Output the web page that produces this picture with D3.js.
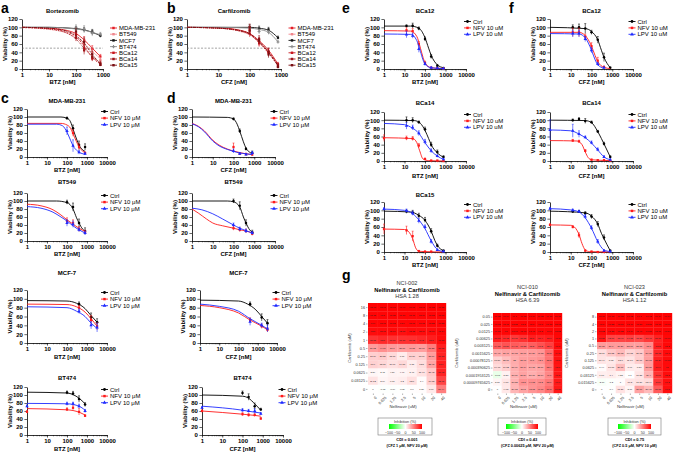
<!DOCTYPE html>
<html>
<head>
<meta charset="utf-8">
<script src="https://cdn.jsdelivr.net/npm/d3@7"></script>
<style>
body { margin: 0; background: #fff; }
svg { display: block; }
</style>
</head>
<body>
<svg id="fig" width="673" height="456"></svg>
<script>
// ---------- data ----------
// points: [dose nM, mean viability %, error]; fit: [dose nM, fitted viability %]
var decades3 = [1, 10, 100, 1000];
var decades4 = [1, 10, 100, 1000, 10000];
var viabilityTicks = [0, 20, 40, 60, 80, 100, 120];

var aBortezomib = [
    { name: 'MDA-MB-231', pts: [[100, 85, 6], [200, 70, 8], [400, 48, 8], [800, 30, 5]], fit: [[1, 100], [10, 98], [50, 92], [100, 85], [200, 70], [400, 50], [800, 30]] },
    { name: 'BT549', pts: [[100, 75, 8], [200, 60, 10], [400, 40, 8], [800, 22, 5]], fit: [[1, 99], [10, 95], [50, 85], [100, 75], [200, 60], [400, 42], [800, 25]] },
    { name: 'MCF7', pts: [[100, 97, 5], [200, 94, 6], [400, 90, 5], [800, 80, 4]], fit: [[1, 100], [10, 100], [100, 97], [200, 94], [400, 88], [800, 80]] },
    { name: 'BT474', pts: [[100, 100, 6], [200, 96, 8], [400, 85, 6], [800, 84, 4]], fit: [[1, 100], [10, 100], [100, 96], [200, 93], [400, 88], [800, 82]] },
    { name: 'BCa12', pts: [[100, 82, 8], [200, 50, 10], [400, 25, 6], [800, 10, 3]], fit: [[1, 100], [10, 97], [50, 88], [100, 78], [200, 55], [400, 28], [800, 12]] },
    { name: 'BCa14', pts: [[100, 75, 8], [200, 45, 10], [400, 28, 8], [800, 15, 4]], fit: [[1, 100], [10, 96], [50, 85], [100, 72], [200, 50], [400, 30], [800, 15]] },
    { name: 'BCa15', pts: [[100, 90, 8], [200, 65, 10], [400, 35, 8], [800, 10, 3]], fit: [[1, 100], [10, 98], [50, 90], [100, 80], [200, 62], [400, 35], [800, 12]] }
];

var bCarfilzomib = [
    { name: 'MDA-MB-231', pts: [[100, 95, 8], [200, 65, 8], [400, 40, 8], [800, 12, 4]], fit: [[1, 100], [10, 99], [50, 93], [100, 85], [200, 68], [400, 45], [800, 12]] },
    { name: 'BT549', pts: [[100, 90, 6], [200, 60, 6], [400, 38, 6], [800, 8, 3]], fit: [[1, 100], [10, 98], [50, 90], [100, 82], [200, 64], [400, 40], [800, 10]] },
    { name: 'MCF7', pts: [[100, 100, 6], [200, 97, 6], [400, 95, 5], [800, 75, 4]], fit: [[1, 100], [10, 100], [100, 100], [200, 98], [400, 93], [800, 75]] },
    { name: 'BT474', pts: [[100, 100, 6], [200, 90, 6], [400, 88, 5], [800, 65, 3]], fit: [[1, 100], [10, 100], [100, 98], [200, 95], [400, 88], [800, 65]] },
    { name: 'BCa12', pts: [[100, 85, 8], [200, 62, 8], [400, 40, 10], [800, 5, 3]], fit: [[1, 100], [10, 98], [50, 92], [100, 84], [200, 63], [400, 38], [800, 8]] },
    { name: 'BCa14', pts: [[100, 100, 8], [200, 72, 8], [400, 42, 8], [800, 10, 4]], fit: [[1, 100], [10, 98], [50, 91], [100, 83], [200, 65], [400, 42], [800, 10]] },
    { name: 'BCa15', pts: [[100, 92, 8], [200, 68, 8], [400, 35, 8], [800, 5, 3]], fit: [[1, 100], [10, 98], [50, 92], [100, 85], [200, 66], [400, 40], [800, 8]] }
];

// c: BTZ +/- NFV or LPV
var cMDA = [
    { name: 'Ctrl', pts: [[100, 97, 3], [200, 72, 8], [400, 30, 10], [800, 25, 8]], fit: [[1, 100], [50, 100], [100, 97], [150, 88], [200, 70], [300, 45], [400, 30], [600, 18], [800, 14]] },
    { name: 'NFV 10 μM', pts: [[200, 60, 8], [400, 25, 8], [800, 10, 3]], fit: [[1, 84], [50, 84], [100, 80], [150, 72], [200, 58], [300, 38], [400, 25], [600, 15], [800, 10]] },
    { name: 'LPV 10 μM', pts: [[100, 65, 10], [200, 28, 15], [400, 12, 5], [800, 8, 3]], fit: [[1, 82], [30, 82], [60, 78], [100, 62], [150, 42], [200, 28], [300, 17], [400, 12], [800, 7]] }
];
var cBT549 = [
    { name: 'Ctrl', pts: [[100, 97, 5], [200, 85, 10], [400, 45, 10], [800, 25, 8]], fit: [[1, 100], [30, 100], [100, 96], [200, 80], [300, 58], [400, 45], [600, 30], [800, 25]] },
    { name: 'NFV 10 μM', pts: [[100, 50, 8], [200, 45, 8], [400, 30, 6], [800, 22, 5]], fit: [[1, 92], [5, 88], [20, 78], [50, 65], [100, 53], [200, 42], [400, 32], [800, 24]] },
    { name: 'LPV 10 μM', pts: [[100, 45, 8], [200, 42, 8], [400, 28, 5], [800, 20, 5]], fit: [[1, 86], [5, 82], [20, 72], [50, 60], [100, 50], [200, 38], [400, 28], [800, 20]] }
];
var cMCF7 = [
    { name: 'Ctrl', pts: [[400, 88, 5], [1600, 58, 10], [3200, 47, 8]], fit: [[1, 96], [100, 95], [300, 90], [800, 78], [1600, 62], [3200, 47]] },
    { name: 'NFV 10 μM', pts: [[400, 80, 5], [1600, 52, 10], [3200, 38, 8]], fit: [[1, 88], [100, 87], [300, 82], [800, 70], [1600, 55], [3200, 38]] },
    { name: 'LPV 10 μM', pts: [[400, 72, 5], [1600, 40, 8], [3200, 35, 10]], fit: [[1, 82], [100, 80], [300, 72], [800, 60], [1600, 45], [3200, 33]] }
];
var cBT474 = [
    { name: 'Ctrl', pts: [[100, 106, 4], [200, 104, 5], [400, 90, 8], [800, 76, 5]], fit: [[1, 107], [100, 105], [200, 101], [400, 92], [800, 78]] },
    { name: 'NFV 10 μM', pts: [[1, 58, 3], [100, 64, 4], [200, 68, 5], [400, 58, 8], [800, 48, 3]], fit: [[1, 66], [100, 63], [400, 57], [800, 50]] },
    { name: 'LPV 10 μM', pts: [[1, 72, 3], [100, 78, 4], [200, 78, 4], [400, 72, 5], [800, 60, 4]], fit: [[1, 79], [100, 78], [400, 72], [800, 62]] }
];

// d: CFZ +/- NFV or LPV
var dMDA = [
    { name: 'Ctrl', pts: [[100, 95, 3], [200, 65, 5], [400, 20, 3], [800, 10, 5]], fit: [[1, 100], [50, 99], [100, 95], [150, 82], [200, 65], [300, 38], [400, 22], [600, 12], [800, 8]] },
    { name: 'NFV 10 μM', pts: [[100, 25, 10], [200, 8, 3], [400, 7, 3], [800, 6, 3]], fit: [[1, 84], [2, 77], [4, 65], [10, 42], [20, 30], [50, 20], [100, 15], [200, 11], [400, 8], [800, 6]] },
    { name: 'LPV 10 μM', pts: [[100, 15, 5], [200, 8, 3], [400, 6, 2], [800, 10, 4]], fit: [[1, 83], [2, 76], [4, 63], [10, 40], [20, 28], [50, 19], [100, 14], [200, 10], [400, 8], [800, 6]] }
];
var dBT549 = [
    { name: 'Ctrl', pts: [[100, 100, 5], [200, 88, 10], [400, 45, 8], [800, 22, 5]], fit: [[1, 100], [50, 100], [100, 98], [200, 85], [300, 60], [400, 45], [600, 28], [800, 22]] },
    { name: 'NFV 10 μM', pts: [[100, 32, 5], [200, 28, 5], [400, 25, 5], [800, 18, 4]], fit: [[1, 80], [2, 70], [5, 55], [10, 45], [30, 38], [100, 32], [200, 28], [400, 25], [800, 20]] },
    { name: 'LPV 10 μM', pts: [[100, 40, 5], [200, 30, 5], [400, 25, 5], [800, 20, 4]], fit: [[1, 82], [3, 78], [10, 68], [30, 55], [100, 40], [200, 32], [400, 26], [800, 20]] }
];
var dMCF7 = [
    { name: 'Ctrl', pts: [[400, 88, 5], [1600, 58, 8], [3200, 45, 8]], fit: [[1, 97], [100, 95], [300, 88], [800, 75], [1600, 60], [3200, 45]] },
    { name: 'NFV 10 μM', pts: [[400, 52, 5], [1600, 38, 5], [3200, 30, 5]], fit: [[1, 85], [10, 80], [100, 68], [400, 52], [1600, 38], [3200, 30]] },
    { name: 'LPV 10 μM', pts: [[400, 48, 8], [1600, 40, 5], [3200, 33, 8]], fit: [[1, 88], [10, 83], [100, 72], [400, 55], [1600, 40], [3200, 32]] }
];
var dBT474 = [
    { name: 'Ctrl', pts: [[100, 105, 5], [200, 95, 8], [400, 72, 8], [800, 64, 3]], fit: [[1, 100], [100, 97], [200, 92], [400, 78], [800, 62]] },
    { name: 'NFV 10 μM', pts: [[1, 60, 3], [100, 52, 4], [200, 50, 4], [400, 50, 4], [800, 41, 3]], fit: [[1, 60], [100, 52], [400, 49], [800, 47]] },
    { name: 'LPV 10 μM', pts: [[1, 68, 3], [100, 62, 4], [200, 60, 4], [400, 60, 6], [800, 53, 3]], fit: [[1, 72], [100, 62], [400, 57], [800, 55]] }
];

// e: BTZ in patient cells, f: CFZ in patient cells
var eBCa12 = [
    { name: 'Ctrl', pts: [[12.5, 103, 3], [25, 104, 6], [50, 97, 4], [100, 72, 5], [200, 30, 5], [400, 8, 3], [800, 2, 2]], fit: [[1, 103], [20, 103], [50, 98], [100, 75], [150, 50], [200, 33], [400, 10], [800, 3]] },
    { name: 'NFV 10 uM', pts: [[12.5, 93, 6], [25, 91, 6], [50, 60, 6], [100, 15, 4], [200, 3, 2], [400, 2, 1], [800, 1, 1]], fit: [[1, 92], [20, 91], [40, 78], [60, 50], [80, 28], [100, 15], [200, 3], [800, 1]] },
    { name: 'LPV 10 uM', pts: [[12.5, 83, 8], [25, 80, 6], [50, 48, 8], [100, 12, 4], [200, 3, 2], [400, 2, 1], [800, 1, 1]], fit: [[1, 84], [20, 83], [40, 68], [60, 42], [80, 22], [100, 12], [200, 3], [800, 1]] }
];
var fBCa12 = [
    { name: 'Ctrl', pts: [[12.5, 100, 6], [25, 100, 8], [50, 97, 12], [100, 88, 5], [200, 70, 8], [400, 28, 10], [800, 3, 2]], fit: [[1, 100], [50, 97], [100, 90], [200, 70], [300, 45], [400, 28], [800, 3]] },
    { name: 'NFV 10 uM', pts: [[12.5, 88, 10], [25, 88, 10], [50, 78, 6], [100, 55, 8], [200, 20, 8], [400, 5, 2]], fit: [[1, 88], [25, 88], [50, 80], [100, 55], [150, 32], [200, 18], [400, 4], [800, 1]] },
    { name: 'LPV 10 uM', pts: [[12.5, 85, 8], [25, 85, 8], [50, 72, 6], [100, 45, 6], [200, 12, 4], [400, 3, 2]], fit: [[1, 85], [25, 84], [50, 75], [100, 45], [150, 22], [200, 10], [400, 2]] }
];
var eBCa14 = [
    { name: 'Ctrl', pts: [[12.5, 100, 8], [25, 100, 6], [50, 95, 3], [100, 78, 5], [200, 40, 6], [400, 22, 5], [800, 10, 3]], fit: [[1, 100], [30, 99], [60, 92], [100, 75], [150, 55], [200, 40], [400, 20], [800, 9]] },
    { name: 'NFV 10 uM', pts: [[1, 56, 8], [12.5, 56, 5], [25, 55, 5], [50, 38, 5], [100, 5, 2], [200, 1, 1], [400, 1, 1], [800, 0, 1]], fit: [[1, 57], [25, 55], [40, 45], [55, 25], [80, 5], [150, 1], [800, 0]] },
    { name: 'LPV 10 uM', pts: [[12.5, 86, 8], [25, 82, 6], [50, 68, 6], [100, 47, 6], [200, 25, 5], [400, 12, 3], [800, 4, 2]], fit: [[1, 92], [10, 89], [25, 80], [50, 68], [100, 45], [200, 25], [400, 12], [800, 4]] }
];
var fBCa14 = [
    { name: 'Ctrl', pts: [[12.5, 100, 3], [25, 103, 3], [50, 98, 6], [100, 95, 3], [200, 72, 3], [400, 42, 4], [800, 10, 3]], fit: [[1, 100], [50, 99], [100, 94], [200, 72], [300, 55], [400, 42], [800, 10]] },
    { name: 'NFV 10 uM', pts: [[12.5, 50, 3], [25, 48, 3], [50, 25, 3], [100, 3, 2], [200, 2, 1], [400, 2, 1], [800, 1, 1]], fit: [[1, 50], [20, 49], [35, 40], [50, 22], [70, 8], [100, 3], [800, 1]] },
    { name: 'LPV 10 uM', pts: [[1, 76, 25], [12.5, 74, 16], [25, 66, 8], [50, 58, 3], [100, 45, 4], [200, 28, 4], [400, 10, 3], [800, 3, 2]], fit: [[1, 76], [10, 74], [25, 66], [50, 57], [100, 44], [200, 27], [400, 10], [800, 3]] }
];
var eBCa15 = [
    { name: 'Ctrl', pts: [[12.5, 97, 4], [25, 95, 5], [50, 87, 6], [100, 77, 6], [200, 50, 6], [400, 15, 4], [800, 3, 2]], fit: [[1, 98], [20, 96], [50, 88], [100, 76], [200, 50], [300, 28], [400, 16], [800, 3]] },
    { name: 'NFV 10 uM', pts: [[1, 55, 12], [12.5, 52, 10], [25, 38, 12], [50, 2, 2], [100, 1, 1], [200, 1, 1]], fit: [[1, 55], [10, 54], [15, 50], [20, 42], [25, 32], [35, 10], [50, 2], [100, 1], [800, 0]] },
    { name: 'LPV 10 uM', pts: [[1, 103, 3], [12.5, 99, 4], [25, 93, 5], [50, 75, 6], [100, 60, 5], [200, 25, 5], [400, 5, 2], [800, 1, 1]], fit: [[1, 103], [10, 100], [25, 92], [50, 77], [100, 56], [200, 27], [400, 6], [800, 1]] }
];
var fBCa15 = [
    { name: 'Ctrl', pts: [[12.5, 97, 3], [25, 97, 3], [50, 93, 4], [100, 85, 5], [200, 67, 6], [400, 35, 6], [800, 3, 2]], fit: [[1, 98], [50, 94], [100, 86], [200, 67], [300, 45], [400, 32], [800, 3]] },
    { name: 'NFV 10 uM', pts: [[1, 65, 3], [12.5, 60, 3], [25, 40, 6], [50, 3, 2], [100, 1, 1], [200, 0, 1], [400, 0, 1]], fit: [[1, 65], [10, 64], [15, 60], [20, 52], [25, 42], [35, 20], [50, 5], [80, 1], [800, 0]] },
    { name: 'LPV 10 uM', pts: [[1, 104, 3], [12.5, 100, 3], [25, 97, 3], [50, 85, 5], [100, 58, 5], [200, 25, 5], [400, 3, 2], [800, 1, 1]], fit: [[1, 104], [10, 101], [25, 96], [50, 82], [100, 57], [200, 25], [400, 5], [800, 1]] }
];

// g: combination matrices, inhibition (%)
var nfvDoses = ['0', '0.625', '1.25', '2.5', '5', '10', '20', '40'];
var nci002Cfz = ['16', '8', '4', '2', '1', '0.5', '0.25', '0.125', '0.0625', '0.03125', '0'];
var nci002Vals = [
    [98.98, 98.98, 98.98, 98.96, 99.01, 98.97, 99.02, 99.05],
    [98.15, 98.1, 98.05, 98.17, 98.11, 98.09, 98.13, 98.66],
    [97.9, 98.01, 97.93, 97.6, 98.01, 97.75, 98.22, 98.52],
    [95.1, 95.77, 95.97, 93.88, 95.65, 95.19, 95.76, 97.74],
    [80.05, 83.6, 80.67, 81.18, 81.63, 84.5, 88.6, 96.12],
    [39.02, 44.07, 39.6, 38.86, 40.15, 37.91, 51.25, 88.02],
    [18.69, 20.55, 15.07, 7.77, 17.86, 18.09, 38.69, 86.13],
    [17.9, 15.87, 11.81, 14.88, 7.15, 13.5, 35.45, 86.9],
    [3.59, 2.45, 4.59, 4.46, 5.48, 11.47, 21.42, 86.42],
    [11.12, 3.99, 6.07, 7.2, 12.6, 1.4, 19.03, 73.45],
    [0, -0.65, -0.84, -0.29, 0.6, 1.26, 8.69, 50.44]
];
var nci010Cfz = ['0.05', '0.025', '0.0125', '0.00625', '0.003125', '0.0015625', '0.00078125', '0.000390625', '0.0001953125', '0.00009765625', '0'];
var nci010Vals = [
    [99.05, 99.04, 99.1, 99.02, 99.04, 99.05, 99.11, 99.15],
    [98.73, 98.61, 98.55, 98.5, 98.7, 98.6, 98.71, 98.93],
    [97.88, 98.0, 97.94, 97.96, 97.97, 97.5, 97.7, 98.52],
    [88.68, 84.13, 77.68, 80.85, 88.1, 86.4, 88.6, 97.3],
    [64.13, 67.56, 64.48, 61.53, 63.2, 68.3, 75.4, 96.1],
    [34.48, 36.41, 36.13, 38.08, 39.36, 41.13, 58.2, 94.8],
    [18.59, 25.87, 33, 37.98, 40.1, 42.7, 55.3, 93.2],
    [14.67, 19.82, 31.69, 37.74, 34.75, 35.89, 52.4, 92.1],
    [-8.61, 5.38, 30.86, 36.54, 31.78, 35.84, 47.1, 91.5],
    [3.88, 9.88, 30.53, 43.3, 44.03, 45.2, 53.1, 90.6],
    [0, 9.12, 29.13, 36.2, 42.13, 46.77, 57.3, 90.88]
];
var nci023Cfz = ['8', '4', '2', '1', '0.5', '0.25', '0.125', '0.0625', '0.03125', '0.015625', '0'];
var nci023Vals = [
    [99.09, 99.06, 99.08, 99.03, 99.1, 99.13, 99.14, 99.14],
    [98.6, 98.55, 98.61, 98.49, 98.57, 98.51, 98.68, 98.97],
    [97.52, 97.31, 97.33, 97.64, 97.49, 97.57, 97.71, 98.54],
    [91.31, 73.67, 73.48, 74.75, 71.36, 77.47, 87.11, 96.99],
    [39.75, 39.6, 39.29, 38.61, 37.85, 45.6, 88.3, 97.2],
    [13.07, 21.52, 27.03, 16.83, 20.73, 39.07, 85.13, 96.4],
    [10.44, 8.63, 13.6, 11.16, 20.11, 37.93, 88.29, 96.12],
    [1.44, 10.08, 26.11, 7.96, 7.56, 38.75, 89.1, 96.0],
    [6.76, 7.4, 4.35, 0.1, 10.35, 29.4, 81.2, 95.3],
    [-2.76, -1.2, 1.0, 10.3, 11.36, 13.44, 78.5, 94.2],
    [0, -0.4, 11.21, 3.77, 36.87, 27.48, 65.13, 94.5]
];
var inhibitionTicks = [-100, -50, 0, 50, 100];

// ---------- drawing ----------
var FONT = '"Liberation Sans", Arial, Helvetica, sans-serif';
var svg = d3.select('#fig').attr('font-family', FONT);

var lineStyles = {
    'MDA-MB-231': { c: '#e41e26', dash: null, sym: d3.symbolSquare },
    'BT549': { c: '#f0868c', dash: '2,1', sym: d3.symbolSquare },
    'MCF7': { c: '#111111', dash: null, sym: d3.symbolSquare },
    'BT474': { c: '#8c8c8c', dash: null, sym: d3.symbolCross },
    'BCa12': { c: '#c8161e', dash: '2,1.2', sym: d3.symbolSquare },
    'BCa14': { c: '#9e1419', dash: '1,1', sym: d3.symbolSquare },
    'BCa15': { c: '#7a1014', dash: '3,1,1,1', sym: d3.symbolSquare }
};

function treatStyle(name) {
    if (name.indexOf('NFV') === 0) return { c: '#ff1a1a', dash: null, sym: d3.symbolSquare };
    if (name.indexOf('LPV') === 0) return { c: '#1f2bff', dash: null, sym: d3.symbolTriangle };
    return { c: '#000000', dash: null, sym: d3.symbolCircle };
}

function styleAxis(sel) {
    sel.attr('font-family', FONT).attr('font-size', 6).attr('font-weight', 'bold');
    sel.select('.domain').attr('stroke', '#000').attr('stroke-width', 0.8);
    sel.selectAll('.tick line').attr('stroke', '#000').attr('stroke-width', 0.6);
}

function doseChart(L, series, styleOf) {
    var x = d3.scaleLog().domain([1, L.max]).range([L.x0, L.x1]);
    var y = d3.scaleLinear().domain([0, 120]).range([L.yBot, L.yTop]);
    var g = svg.append('g');

    // minor log ticks
    g.append('g')
        .attr('transform', 'translate(0,' + L.yBot + ')')
        .call(d3.axisBottom(x).ticks(40).tickSize(1.4).tickFormat(''))
        .call(function (s) {
            s.select('.domain').remove();
            s.selectAll('.tick line').attr('stroke', '#000').attr('stroke-width', 0.4);
        });
    g.append('g')
        .attr('transform', 'translate(0,' + L.yBot + ')')
        .call(d3.axisBottom(x).tickValues(L.max === 1000 ? decades3 : decades4)
            .tickFormat(d3.format('d')).tickSize(2.6).tickSizeOuter(0).tickPadding(1.5))
        .call(styleAxis);
    g.append('g')
        .attr('transform', 'translate(' + L.x0 + ',0)')
        .call(d3.axisLeft(y).tickValues(viabilityTicks).tickSize(2.6).tickSizeOuter(0).tickPadding(1.5))
        .call(styleAxis);

    if (L.half) {
        g.append('line')
            .attr('x1', L.x0).attr('x2', L.x1)
            .attr('y1', y(50)).attr('y2', y(50))
            .attr('stroke', '#666').attr('stroke-width', 0.6).attr('stroke-dasharray', '2,1.5');
    }

    // titles
    var cx = (L.x0 + L.x1) / 2;
    if (L.title) {
        g.append('text').attr('x', cx).attr('y', L.titleY).attr('dy', '0.35em')
            .attr('text-anchor', 'middle').attr('font-size', 6).attr('font-weight', 'bold')
            .text(L.title);
    }
    g.append('text').attr('x', cx).attr('y', L.xlabY).attr('dy', '0.35em')
        .attr('text-anchor', 'middle').attr('font-size', 6).attr('font-weight', 'bold')
        .text(L.xlab);
    g.append('text')
        .attr('transform', 'translate(' + (L.x0 - 17) + ',' + (L.yTop + L.yBot) / 2 + ') rotate(-90)')
        .attr('text-anchor', 'middle').attr('dy', '0.35em')
        .attr('font-size', 6).attr('font-weight', 'bold')
        .text('Viability (%)');

    var line = d3.line()
        .x(function (d) { return x(d[0]); })
        .y(function (d) { return y(d[1]); })
        .curve(d3.curveMonotoneX);

    series.forEach(function (s) {
        var st = styleOf(s.name);
        g.append('path').datum(s.fit)
            .attr('d', line)
            .attr('fill', 'none')
            .attr('stroke', st.c)
            .attr('stroke-width', 0.9)
            .attr('stroke-dasharray', st.dash);

        var pg = g.append('g').attr('stroke', st.c).attr('fill', st.c);
        pg.selectAll('line.bar').data(s.pts).enter().append('line')
            .attr('x1', function (d) { return x(d[0]); })
            .attr('x2', function (d) { return x(d[0]); })
            .attr('y1', function (d) { return y(d[1] + d[2]); })
            .attr('y2', function (d) { return y(Math.max(0, d[1] - d[2])); })
            .attr('stroke-width', 0.6);
        pg.selectAll('line.cap').data(s.pts).enter().append('line')
            .attr('x1', function (d) { return x(d[0]) - 1; })
            .attr('x2', function (d) { return x(d[0]) + 1; })
            .attr('y1', function (d) { return y(d[1] + d[2]); })
            .attr('y2', function (d) { return y(d[1] + d[2]); })
            .attr('stroke-width', 0.5);
        pg.selectAll('path.pt').data(s.pts).enter().append('path')
            .attr('transform', function (d) { return 'translate(' + x(d[0]) + ',' + y(d[1]) + ')'; })
            .attr('d', d3.symbol().type(st.sym).size(5))
            .attr('stroke', 'none');
    });

    // legend
    var lg = g.append('g');
    series.forEach(function (s, i) {
        var st = styleOf(s.name);
        var ly = L.legY + i * L.legStep;
        lg.append('line')
            .attr('x1', L.legX - 3.5).attr('x2', L.legX + 3.5)
            .attr('y1', ly).attr('y2', ly)
            .attr('stroke', st.c).attr('stroke-width', 0.9);
        lg.append('path')
            .attr('transform', 'translate(' + L.legX + ',' + ly + ')')
            .attr('d', d3.symbol().type(st.sym).size(6))
            .attr('fill', st.c);
        lg.append('text')
            .attr('x', L.legX + 5.5).attr('y', ly).attr('dy', '0.35em')
            .attr('font-size', 6).attr('fill', st.c === '#000000' || st.c === '#111111' ? '#000' : st.c)
            .attr('fill', '#000')
            .text(s.name);
    });
}

function panelLetter(t, x, y) {
    svg.append('text').attr('x', x).attr('y', y)
        .attr('font-size', 14).attr('font-weight', 'bold').text(t);
}

// a, b
doseChart({ x0: 22, x1: 103, yTop: 19, yBot: 69, max: 1000, half: true, title: 'Bortezomib', titleY: 11,
    xlab: 'BTZ [nM]', xlabY: 82, legX: 113.5, legY: 28, legStep: 6.2 }, aBortezomib, function (n) { return lineStyles[n]; });
doseChart({ x0: 187, x1: 281, yTop: 19, yBot: 69, max: 1000, half: true, title: 'Carfilzomib', titleY: 11,
    xlab: 'CFZ [nM]', xlabY: 82, legX: 292, legY: 28, legStep: 6.2 }, bCarfilzomib, function (n) { return lineStyles[n]; });

// c, d rows
var cdRows = [
    { title: 'MDA-MB-231', titleY: 101, yTop: 109, yBot: 157, xlabY: 170, c: cMDA, d: dMDA, dx0: 192, dx1: 275 },
    { title: 'BT549', titleY: 182, yTop: 193, yBot: 241, xlabY: 254, c: cBT549, d: dBT549, dx0: 192, dx1: 275 },
    { title: 'MCF-7', titleY: 273, yTop: 290, yBot: 343, xlabY: 357, c: cMCF7, d: dMCF7, dx0: 200, dx1: 277 },
    { title: 'BT474', titleY: 378, yTop: 387, yBot: 435, xlabY: 449, c: cBT474, d: dBT474, dx0: 202, dx1: 283 }
];
cdRows.forEach(function (r) {
    doseChart({ x0: 27, x1: 107, yTop: r.yTop, yBot: r.yBot, max: 10000, title: r.title, titleY: r.titleY,
        xlab: 'BTZ [nM]', xlabY: r.xlabY, legX: 104.5, legY: r.yTop + 2.5, legStep: 6.6 }, r.c, treatStyle);
    doseChart({ x0: r.dx0, x1: r.dx1, yTop: r.yTop, yBot: r.yBot, max: 10000, title: r.title, titleY: r.titleY,
        xlab: 'CFZ [nM]', xlabY: r.xlabY, legX: r.dx1 - 1, legY: r.yTop + 2.5, legStep: 6.6 }, r.d, treatStyle);
});

// e, f rows
var efRows = [
    { title: 'BCa12', ftitle: 'BCa12', titleY: 11, yTop: 19, yBot: 69, xlabY: 82, e: eBCa12, f: fBCa12 },
    { title: 'BCa14', ftitle: 'BCa14', titleY: 103, yTop: 112, yBot: 161, xlabY: 176, e: eBCa14, f: fBCa14 },
    { title: 'BCa15', ftitle: null, titleY: 195, yTop: 202, yBot: 252, xlabY: 265, e: eBCa15, f: fBCa15 }
];
efRows.forEach(function (r) {
    doseChart({ x0: 384, x1: 466, yTop: r.yTop, yBot: r.yBot, max: 10000, title: r.title, titleY: r.titleY,
        xlab: 'BTZ [nM]', xlabY: r.xlabY, legX: 467.5, legY: r.yTop + 2.5, legStep: 6.4 }, r.e, treatStyle);
    doseChart({ x0: 550, x1: 633, yTop: r.yTop, yBot: r.yBot, max: 10000, title: r.ftitle, titleY: r.titleY,
        xlab: 'CFZ [nM]', xlabY: r.xlabY, legX: 632, legY: r.yTop + 2.5, legStep: 6.4 }, r.f, treatStyle);
});

// g heatmaps
var inhColor = d3.scaleLinear().domain([-100, 0, 100]).range(['#00ff00', '#ffffff', '#ff0000']);
var defs = svg.append('defs');
var grad = defs.append('linearGradient').attr('id', 'inhGrad');
d3.range(0, 1.01, 0.1).forEach(function (t) {
    grad.append('stop').attr('offset', t).attr('stop-color', inhColor(-100 + 200 * t));
});

function heatmap(H, rows, vals) {
    var g = svg.append('g');
    var xb = d3.scaleBand().domain(d3.range(nfvDoses.length)).range([H.x0, H.x1]);
    var yb = d3.scaleBand().domain(d3.range(rows.length)).range([H.top, H.bottom]);
    var cx = (H.x0 + H.x1) / 2;

    vals.forEach(function (row, i) {
        var rg = g.append('g');
        rg.selectAll('rect').data(row).enter().append('rect')
            .attr('x', function (d, j) { return xb(j); })
            .attr('y', yb(i))
            .attr('width', xb.bandwidth() + 0.2)
            .attr('height', yb.bandwidth() + 0.2)
            .attr('fill', function (d) { return inhColor(d); });
        rg.selectAll('text').data(row).enter().append('text')
            .attr('x', function (d, j) { return xb(j) + xb.bandwidth() / 2; })
            .attr('y', yb(i) + yb.bandwidth() / 2)
            .attr('dy', '0.35em').attr('text-anchor', 'middle')
            .attr('font-size', 2.4).attr('fill', '#222')
            .text(function (d) { return d; });
    });

    // row axis
    g.append('g')
        .attr('transform', 'translate(' + (H.x0 - 0.5) + ',0)')
        .call(d3.axisLeft(d3.scalePoint().domain(rows).range([H.top + yb.bandwidth() / 2, H.bottom - yb.bandwidth() / 2]))
            .tickSize(1.5).tickPadding(1))
        .call(function (s) {
            s.attr('font-size', 3.8).attr('font-family', FONT);
            s.select('.domain').remove();
            s.selectAll('.tick line').attr('stroke', '#444').attr('stroke-width', 0.4);
            s.selectAll('text').attr('fill', '#333');
        });
    // column axis
    var colAxis = g.append('g')
        .attr('transform', 'translate(0,' + (H.bottom + 0.5) + ')')
        .call(d3.axisBottom(d3.scalePoint().domain(nfvDoses).range([H.x0 + xb.bandwidth() / 2, H.x1 - xb.bandwidth() / 2]))
            .tickSize(1.5).tickPadding(1));
    colAxis.attr('font-size', 3.8).attr('font-family', FONT);
    colAxis.select('.domain').remove();
    colAxis.selectAll('.tick line').attr('stroke', '#444').attr('stroke-width', 0.4);
    colAxis.selectAll('text').attr('fill', '#333')
        .attr('text-anchor', 'end').attr('dy', '0.3em')
        .attr('transform', 'translate(1,2) rotate(-45)');

    g.append('text')
        .attr('transform', 'translate(' + H.ylabX + ',' + (H.top + H.bottom) / 2 + ') rotate(-90)')
        .attr('text-anchor', 'middle').attr('font-size', 4).attr('fill', '#333')
        .text('Carfilzomib (uM)');
    g.append('text').attr('x', cx - 4).attr('y', 408).attr('text-anchor', 'middle')
        .attr('font-size', 4.2).attr('fill', '#333').text('Nelfinavir (uM)');

    // title lines
    g.append('text').attr('x', cx).attr('y', H.titleY).attr('text-anchor', 'middle')
        .attr('font-size', 5.6).attr('fill', '#333').text(H.name);
    g.append('text').attr('x', cx).attr('y', H.titleY + 6.5).attr('text-anchor', 'middle')
        .attr('font-size', 5.8).attr('font-weight', 'bold').text('Nelfinavir & Carfilzomib');
    g.append('text').attr('x', cx).attr('y', H.titleY + 13).attr('text-anchor', 'middle')
        .attr('font-size', 5.6).attr('fill', '#333').text(H.hsa);

    // legend box
    var bx = H.boxX, bw = H.boxW;
    g.append('rect').attr('x', bx).attr('y', 418).attr('width', bw).attr('height', 17)
        .attr('fill', '#fff').attr('stroke', '#777').attr('stroke-width', 0.6);
    g.append('text').attr('x', bx + bw / 2).attr('y', 422.5).attr('text-anchor', 'middle')
        .attr('font-size', 3.8).attr('fill', '#333').text('Inhibition (%)');
    var bs = d3.scaleLinear().domain([-100, 100]).range([H.barX, H.barX + H.barW]);
    g.append('rect').attr('x', H.barX).attr('y', 424).attr('width', H.barW).attr('height', 5)
        .attr('fill', 'url(#inhGrad)');
    g.append('g').selectAll('text').data(inhibitionTicks).enter().append('text')
        .attr('x', function (d) { return bs(d); }).attr('y', 433.5)
        .attr('text-anchor', 'middle').attr('font-size', 3.6).attr('fill', '#333')
        .text(function (d) { return d < 0 ? '\u2212' + (-d) : d; });

    g.append('text').attr('x', cx).attr('y', 441).attr('text-anchor', 'middle')
        .attr('font-size', 4).attr('font-weight', 'bold').text(H.cdi);
    g.append('text').attr('x', cx).attr('y', 446.5).attr('text-anchor', 'middle')
        .attr('font-size', 3.8).attr('font-weight', 'bold').text(H.best);
}

heatmap({ x0: 368, x1: 446, top: 303, bottom: 393, ylabX: 351, titleY: 285, name: 'NCI-002', hsa: 'HSA 1.28',
    boxX: 378, boxW: 54, barX: 389, barW: 33, cdi: 'CDI = 0.001', best: '(CFZ 1 μM, NFV 20 μM)' }, nci002Cfz, nci002Vals);
heatmap({ x0: 493, x1: 562, top: 313, bottom: 393, ylabX: 458, titleY: 289, name: 'NCI-010', hsa: 'HSA 6.39',
    boxX: 498, boxW: 48, barX: 506, barW: 32, cdi: 'CDI = 0.43', best: '(CFZ 0.00625 μM, NFV 20 μM)' }, nci010Cfz, nci010Vals);
heatmap({ x0: 597, x1: 672, top: 313, bottom: 393, ylabX: 568, titleY: 289, name: 'NCI-023', hsa: 'HSA 1.12',
    boxX: 608, boxW: 53, barX: 618, barW: 33, cdi: 'CDI = 0.75', best: '(CFZ 0.5 μM, NFV 10 μM)' }, nci023Cfz, nci023Vals);

panelLetter('a', 1, 13);
panelLetter('b', 167, 13);
panelLetter('c', 1, 103);
panelLetter('d', 167, 103);
panelLetter('e', 342, 13);
panelLetter('f', 509, 13);
panelLetter('g', 342, 280);
</script>
</body>
</html>
